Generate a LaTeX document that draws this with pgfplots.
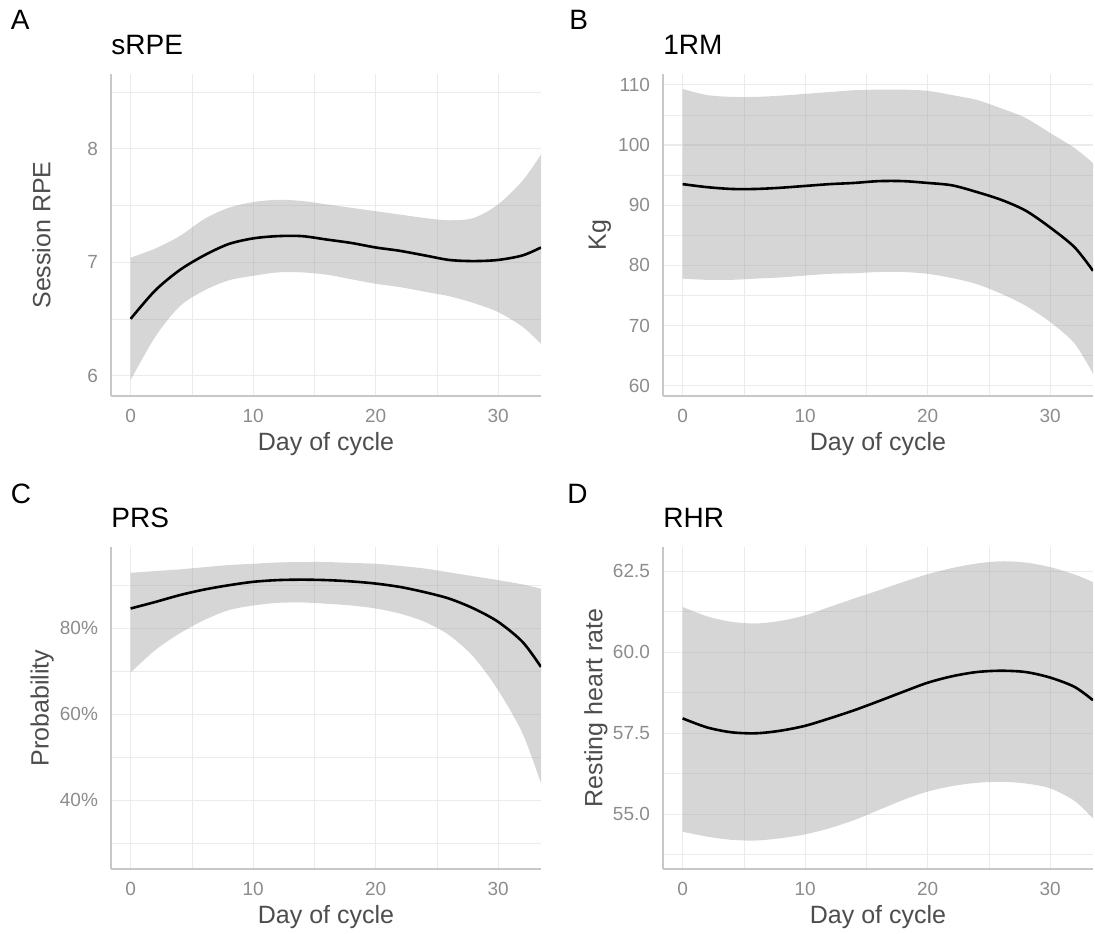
\documentclass[border=0pt]{standalone}
\usepackage{fontspec}
\setmainfont{Liberation Sans}
\usepackage{pgfplots}
\usepackage{pgfplotstable}
\usepgfplotslibrary{fillbetween}
\pgfplotsset{compat=1.18}

\definecolor{gridc}{RGB}{235,235,235}
\definecolor{axisc}{RGB}{200,200,200}
\definecolor{tickc}{RGB}{140,140,140}
\definecolor{labc}{RGB}{77,77,77}

% x = day of cycle, lo/hi = ribbon, mid = fitted line
\pgfplotstableread{
x lo mid hi
0 5.96 6.50 7.04
2 6.34 6.75 7.12
4 6.61 6.93 7.23
6 6.75 7.06 7.38
8 6.84 7.16 7.48
10 6.88 7.21 7.53
12 6.91 7.23 7.55
14 6.91 7.23 7.54
16 6.89 7.20 7.51
18 6.85 7.17 7.48
20 6.81 7.13 7.45
22 6.78 7.10 7.42
24 6.74 7.06 7.39
26 6.70 7.02 7.37
28 6.64 7.01 7.39
30 6.56 7.02 7.51
32 6.43 7.06 7.72
33.5 6.28 7.13 7.95
}\dA

\pgfplotstableread{
x lo mid hi
0 77.8 93.5 109.3
2 77.6 93.0 108.3
4 77.6 92.7 108.0
6 77.8 92.7 108.0
8 78.0 92.9 108.2
10 78.3 93.2 108.5
12 78.6 93.5 108.8
14 78.7 93.7 109.1
16 78.9 94.0 109.2
18 78.9 94.0 109.2
20 78.6 93.7 109.0
22 77.9 93.3 108.3
24 76.9 92.2 107.5
26 75.3 90.9 106.1
28 73.3 89.1 104.5
30 70.6 86.3 102.0
32 67.0 83.0 99.5
33.5 62.0 79.1 97.0
}\dB

\pgfplotstableread{
x lo mid hi
0 69.7 84.6 92.9
2 74.9 86.1 93.3
4 78.8 87.7 93.7
6 81.9 89.0 94.2
8 84.2 90.0 94.7
10 85.3 90.8 95.0
12 85.9 91.2 95.3
14 86.0 91.3 95.4
16 85.7 91.2 95.4
18 85.3 90.9 95.2
20 84.6 90.4 95.0
22 83.4 89.6 94.5
24 81.5 88.4 93.9
26 78.4 86.9 93.0
28 73.3 84.6 92.1
30 65.6 81.5 91.2
32 55.5 76.8 90.2
33.5 43.9 71.0 89.2
}\dC

\pgfplotstableread{
x lo mid hi
0 54.46 57.96 61.40
2 54.31 57.68 61.11
4 54.21 57.53 60.94
6 54.19 57.50 60.89
8 54.26 57.58 60.97
10 54.38 57.73 61.14
12 54.57 57.96 61.40
14 54.82 58.21 61.66
16 55.13 58.49 61.91
18 55.44 58.78 62.17
20 55.70 59.06 62.41
22 55.87 59.26 62.60
24 55.97 59.39 62.74
26 56.00 59.43 62.81
28 55.95 59.39 62.77
30 55.80 59.22 62.63
32 55.41 58.93 62.40
33.5 54.87 58.52 62.17
}\dD

\pgfplotsset{
  panel/.style={
    scale only axis,
    width=215pt, height=161pt,
    anchor=south west,
    xmin=-1.6, xmax=33.5,
    xtick={0,10,20,30}, xticklabels={0,10,20,30},
    minor xtick={5,15,25},
    grid=both,
    major grid style={draw=gridc, line width=0.6pt},
    minor grid style={draw=gridc, line width=0.35pt},
    axis x line*=bottom, axis y line*=left,
    axis line style={draw=axisc, line width=0.9pt, -},
    major tick length=0pt, minor tick length=0pt,
    ticklabel style={font=\fontsize{9.5}{11}\selectfont, text=tickc},
    xticklabel style={anchor=base, yshift=-13pt},
    yticklabel style={anchor=east, xshift=-3pt},
    xlabel={Day of cycle},
    xlabel style={at={(axis description cs:0.5,0)}, anchor=base, yshift=-27pt,
      font=\fontsize{12.5}{14}\selectfont, text=labc},
    ylabel style={anchor=center, font=\fontsize{12.5}{14}\selectfont, text=labc},
  },
  band/.style={fill=black!40, fill opacity=0.4, draw=none},
  fit/.style={black, line width=1.3pt, smooth},
}

\begin{document}
\begin{tikzpicture}

% A
\begin{axis}[panel, at={(55.5pt,268.5pt)},
  ymin=5.82, ymax=8.66,
  ytick={6,7,8}, yticklabels={6,7,8}, minor ytick={6.5,7.5,8.5},
  ylabel={Session RPE},
  ylabel style={at={(axis description cs:-0.162,0.5)}}]
\addplot[draw=none, smooth, name path=hiA] table[x=x,y=hi]{\dA};
\addplot[draw=none, smooth, name path=loA] table[x=x,y=lo]{\dA};
\addplot[band] fill between[of=hiA and loA];
\addplot[fit] table[x=x,y=mid]{\dA};
\end{axis}

% B
\begin{axis}[panel, at={(331.5pt,268.5pt)},
  ymin=58.3, ymax=111.8,
  ytick={60,70,80,90,100,110}, yticklabels={60,70,80,90,100,110},
  minor ytick={65,75,85,95,105},
  ylabel={Kg},
  ylabel style={at={(axis description cs:-0.147,0.5)}}]
\addplot[draw=none, smooth, name path=hiB] table[x=x,y=hi]{\dB};
\addplot[draw=none, smooth, name path=loB] table[x=x,y=lo]{\dB};
\addplot[band] fill between[of=hiB and loB];
\addplot[fit] table[x=x,y=mid]{\dB};
\end{axis}

% C
\begin{axis}[panel, at={(55.5pt,32pt)},
  ymin=24.0, ymax=98.9,
  ytick={40,60,80}, yticklabels={40\%,60\%,80\%},
  minor ytick={30,50,70,90},
  ylabel={Probability},
  ylabel style={at={(axis description cs:-0.160,0.5)}}]
\addplot[draw=none, smooth, name path=hiC] table[x=x,y=hi]{\dC};
\addplot[draw=none, smooth, name path=loC] table[x=x,y=lo]{\dC};
\addplot[band] fill between[of=hiC and loC];
\addplot[fit] table[x=x,y=mid]{\dC};
\end{axis}

% D
\begin{axis}[panel, at={(331.5pt,32pt)},
  ymin=53.31, ymax=63.25,
  ytick={55,57.5,60,62.5}, yticklabels={55.0,57.5,60.0,62.5},
  minor ytick={53.75,56.25,58.75,61.25},
  ylabel={Resting heart rate},
  ylabel style={at={(axis description cs:-0.156,0.5)}}]
\addplot[draw=none, smooth, name path=hiD] table[x=x,y=hi]{\dD};
\addplot[draw=none, smooth, name path=loD] table[x=x,y=lo]{\dD};
\addplot[band] fill between[of=hiD and loD];
\addplot[fit] table[x=x,y=mid]{\dD};
\end{axis}

% panel tags and titles
\begin{scope}[every node/.style={inner sep=0pt, anchor=base west, font=\fontsize{14}{16}\selectfont}]
\node at (5.25pt,451.5pt) {A};
\node at (284.5pt,451.5pt) {B};
\node at (5.25pt,214.8pt) {C};
\node at (283.5pt,214.8pt) {D};
\node at (55.5pt,439pt) {sRPE};
\node at (331.5pt,439pt) {1RM};
\node at (55.5pt,203pt) {PRS};
\node at (331.5pt,203pt) {RHR};
\end{scope}

\pgfresetboundingbox
\path (0,0) rectangle (547.5pt,466.5pt);
\end{tikzpicture}
\end{document}
